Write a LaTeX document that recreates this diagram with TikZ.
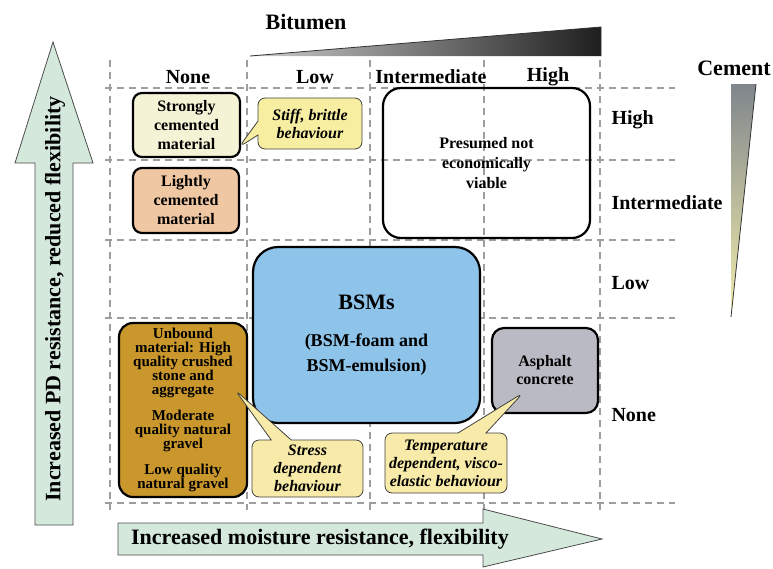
\documentclass[tikz,border=0pt]{standalone}
\usepackage{fontspec}
\setmainfont{Liberation Serif}
\usetikzlibrary{shapes.callouts, positioning, calc}

\definecolor{GridGray}{RGB}{158,158,158}
\definecolor{ArrowGreen}{RGB}{212,233,220}
\definecolor{StrongCream}{RGB}{245,243,214}
\definecolor{LightPeach}{RGB}{240,199,163}
\definecolor{BsmBlue}{RGB}{142,195,234}
\definecolor{UnboundGold}{RGB}{201,151,44}
\definecolor{AsphaltGray}{RGB}{186,186,196}
\definecolor{NoteYellow}{RGB}{248,234,168}
\definecolor{StiffYellow}{RGB}{248,238,162}
\definecolor{CementTop}{RGB}{128,134,140}
\definecolor{CementBottom}{RGB}{244,238,172}

\begin{document}
\begin{tikzpicture}[x=1pt, y=-1pt,
    gridline/.style={GridGray, line width=1.8pt, dash pattern=on 7pt off 5pt},
    box/.style={draw=black, line width=2.2pt, align=center, inner sep=0pt,
        font=\bfseries\fontsize{16}{19}\selectfont},
    note/.style={rectangle callout, draw=black!75, line width=0.8pt, rounded corners=7pt,
        fill=NoteYellow, align=center, inner sep=0pt,
        font=\bfseries\itshape\fontsize{16}{18}\selectfont},
    head/.style={font=\bfseries\fontsize{20}{24}\selectfont},
    title/.style={font=\bfseries\fontsize{22}{26}\selectfont}]
    \useasboundingbox (0,0) rectangle (773,568);

    % Grid
    \foreach \y in {88,160,240,318,503} {
        \draw[gridline] (105,\y) -- (675,\y);
    }
    \foreach \x in {110,247,370,484,600} {
        \draw[gridline] (\x,60) -- (\x,510);
    }

    % Axis arrows
    \filldraw[fill=ArrowGreen, draw=black!70, line width=0.8pt]
        (35,525) -- (35,163) -- (15,163) -- (53,42) -- (93,163) -- (73,163) -- (73,525) -- cycle;
    \node[title, rotate=90] (pdaxis) at (55,299) {Increased PD resistance, reduced flexibility};
    \filldraw[fill=ArrowGreen, draw=black!70, line width=0.8pt]
        (118,523) -- (483,523) -- (483,509) -- (602,539) -- (483,567) -- (483,555) -- (118,555) -- cycle;
    \node[title] (mraxis) at (320,539) {Increased moisture resistance, flexibility};

    % Bitumen and cement wedges
    \shade[left color=black!20, right color=black!88] (250,56) -- (601,27) -- (601,56) -- cycle;
    \draw[black!80, line width=0.8pt] (250,56) -- (601,27) -- (601,56);
    \node[title] (bitumen) at (306,22) {Bitumen};
    \shade[top color=CementTop, bottom color=CementBottom] (731,84) -- (756,84) -- (731,317) -- cycle;
    \draw[black!80, line width=0.8pt] (756,84) -- (731,317);
    \node[title] (cement) at (734,68) {Cement};

    % Column and row labels
    \node[head] (cnone) at (188,77) {None};
    \node[head] (clow) at (315,77) {Low};
    \node[head] (cint) at (431,77) {Intermediate};
    \node[head] (chigh) at (548,77) {High};
    \node[head, anchor=west] (rhigh) at (608,120) {High};
    \node[head, anchor=west] (rint) at (608,203) {Intermediate};
    \node[head, anchor=west] (rlow) at (608,283) {Low};
    \node[head, anchor=west] (rnone) at (608,415) {None};

    % Material boxes
    \node[box, fill=StrongCream, rounded corners=9pt, minimum width=107pt, minimum height=64pt]
        (strong) at (186.5,125) {Strongly\\cemented\\material};
    \node[box, fill=LightPeach, rounded corners=9pt, minimum width=106pt, minimum height=65pt]
        (light) at (186,200.5) {Lightly\\cemented\\material};
    \node[box, rounded corners=18pt, minimum width=207pt, minimum height=150pt,
        font=\bfseries\fontsize{16}{20}\selectfont]
        (presumed) at (486.5,163) {Presumed not\\economically\\viable};
    \node[box, fill=BsmBlue, rounded corners=25pt, minimum width=227pt, minimum height=176pt,
        font=\bfseries\fontsize{18}{25}\selectfont]
        (bsm) at (366.5,335) {{\fontsize{22}{26}\selectfont BSMs}\\[12pt](BSM-foam and\\BSM-emulsion)};
    \node[box, fill=UnboundGold, rounded corners=14pt, minimum width=128pt, minimum height=174pt,
        font=\bfseries\fontsize{15}{14}\selectfont]
        (unbound) at (183,410) {Unbound\\material: High\\quality crushed\\stone and\\aggregate\\[12pt]
        Moderate\\quality natural\\gravel\\[12pt]Low quality\\natural gravel};
    \node[box, fill=AsphaltGray, rounded corners=12pt, minimum width=106pt, minimum height=85pt,
        font=\bfseries\fontsize{16}{18}\selectfont]
        (asphalt) at (545,370.5) {Asphalt\\concrete};

    % Callouts
    \node[note, fill=StiffYellow, minimum width=104pt, minimum height=51pt, callout pointer width=14pt,
        callout absolute pointer={($(strong.east)+(-2,22)$)}]
        (stiff) at (310,123.5) {Stiff, brittle\\behaviour};
    \node[note, minimum width=111pt, minimum height=57pt, callout pointer width=20pt,
        callout absolute pointer={($(unbound.east)+(-13,-20)$)}]
        (stress) at (307.5,468.5) {Stress\\dependent\\behaviour};
    \node[note, minimum width=122pt, minimum height=60pt, callout pointer width=28pt,
        callout absolute pointer={($(asphalt.center)+(-22,22.5)$)}]
        (temp) at (446,463) {Temperature\\dependent, visco-\\elastic behaviour};
\end{tikzpicture}
\end{document}
